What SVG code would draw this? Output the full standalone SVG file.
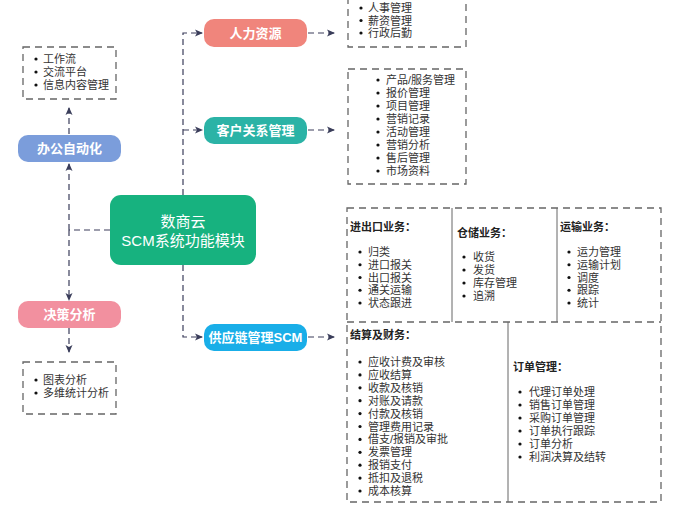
<svg xmlns="http://www.w3.org/2000/svg" width="681" height="527" viewBox="0 0 681 527">
<defs>
<marker id="ah" markerWidth="8" markerHeight="8" refX="7" refY="4" orient="auto" markerUnits="userSpaceOnUse">
<path d="M0,0.5 L8,4 L0,7.5 L2,4 Z" fill="#3a3d5a"/>
</marker>
</defs>
<style>
.conn{fill:none;stroke:#3a3d5a;stroke-width:1.2;stroke-dasharray:6,4}
.box{fill:#fff;stroke:#666;stroke-width:1.3;stroke-dasharray:7,5}
.div{stroke:#666;stroke-width:1}
.nt{font-family:"Liberation Sans","Noto Sans CJK SC",sans-serif;font-size:13px;font-weight:bold;fill:#fff;text-anchor:middle}
.it{font-family:"Liberation Sans","Noto Sans CJK SC",sans-serif;font-size:11px;fill:#333}
.hd{font-family:"Liberation Sans","Noto Sans CJK SC",sans-serif;font-size:11px;font-weight:bold;fill:#222}
.bl{fill:#111}
</style>
<rect width="681" height="527" fill="#fff"/>
<g id="connectors">
<path class="conn" d="M183,195 V33 H202" marker-end="url(#ah)"/>
<path class="conn" d="M183,130 H202" marker-end="url(#ah)"/>
<path class="conn" d="M183,265 V337 H202" marker-end="url(#ah)"/>
<path class="conn" d="M308,33 H334" marker-end="url(#ah)"/>
<path class="conn" d="M308,130 H334" marker-end="url(#ah)"/>
<path class="conn" d="M308,337 H334" marker-end="url(#ah)"/>
<path class="conn" d="M110,230 H69"/>
<path class="conn" d="M69,230 V164" marker-end="url(#ah)"/>
<path class="conn" d="M69,230 V300" marker-end="url(#ah)"/>
<path class="conn" d="M69,134 V108" marker-end="url(#ah)"/>
<path class="conn" d="M69,328 V352" marker-end="url(#ah)"/>
</g>
<g id="main">
<rect x="110" y="195" width="146" height="70" rx="11" fill="#17b27f"/>
<text class="nt" x="183" y="227" style="font-size:15px;font-weight:normal"><tspan x="183">数商云</tspan><tspan x="183" dy="19">SCM系统功能模块</tspan></text>
</g>
<g id="hr">
<rect x="204" y="19" width="103" height="28" rx="10" fill="#f0857c"/>
<text class="nt" x="255.500" y="38">人力资源</text>
</g>
<g id="crm">
<rect x="204" y="117" width="103" height="27" rx="10" fill="#2bb3a6"/>
<text class="nt" x="255.500" y="135">客户关系管理</text>
</g>
<g id="scm">
<rect x="204" y="324" width="103" height="27" rx="10" fill="#19aee8"/>
<text class="nt" x="255.500" y="342">供应链管理SCM</text>
</g>
<g id="oa">
<rect x="18" y="135" width="103" height="27" rx="10" fill="#7b9ddb"/>
<text class="nt" x="69.500" y="153">办公自动化</text>
</g>
<g id="da">
<rect x="18" y="301" width="103" height="27" rx="10" fill="#f2909f"/>
<text class="nt" x="69.500" y="319">决策分析</text>
</g>
<g id="oa-list">
<rect class="box" x="23" y="47" width="93" height="52"/>
<circle class="bl" cx="36" cy="59" r="1.6"/><circle class="bl" cx="36" cy="72" r="1.6"/><circle class="bl" cx="36" cy="85" r="1.6"/>
<text class="it" y="63"><tspan x="43">工作流</tspan><tspan x="43" dy="13">交流平台</tspan><tspan x="43" dy="13">信息内容管理</tspan></text>
</g>
<g id="da-list">
<rect class="box" x="23" y="362" width="93" height="52"/>
<circle class="bl" cx="36" cy="380" r="1.6"/><circle class="bl" cx="36" cy="393" r="1.6"/>
<text class="it" y="384"><tspan x="43">图表分析</tspan><tspan x="43" dy="13">多维统计分析</tspan></text>
</g>
<g id="hr-list">
<rect class="box" x="348" y="-10" width="118" height="57"/>
<circle class="bl" cx="361" cy="8" r="1.6"/><circle class="bl" cx="361" cy="20.500" r="1.6"/><circle class="bl" cx="361" cy="33" r="1.6"/>
<text class="it" y="12"><tspan x="368">人事管理</tspan><tspan x="368" dy="12.500">薪资管理</tspan><tspan x="368" dy="12.500">行政后勤</tspan></text>
</g>
<g id="crm-list">
<rect class="box" x="348" y="69" width="118" height="115"/>
<circle class="bl" cx="378" cy="80" r="1.6"/><circle class="bl" cx="378" cy="93" r="1.6"/><circle class="bl" cx="378" cy="106" r="1.6"/><circle class="bl" cx="378" cy="119" r="1.6"/><circle class="bl" cx="378" cy="132" r="1.6"/><circle class="bl" cx="378" cy="145" r="1.6"/><circle class="bl" cx="378" cy="158" r="1.6"/><circle class="bl" cx="378" cy="171" r="1.6"/>
<text class="it" y="84"><tspan x="386">产品/服务管理</tspan><tspan x="386" dy="13">报价管理</tspan><tspan x="386" dy="13">项目管理</tspan><tspan x="386" dy="13">营销记录</tspan><tspan x="386" dy="13">活动管理</tspan><tspan x="386" dy="13">营销分析</tspan><tspan x="386" dy="13">售后管理</tspan><tspan x="386" dy="13">市场资料</tspan></text>
</g>
<g id="scm-list">
<rect class="box" x="347" y="208" width="314" height="294"/>
<line class="div" x1="452" y1="208" x2="452" y2="322"/>
<line class="div" x1="557" y1="208" x2="557" y2="322"/>
<line class="box" x1="347" y1="322" x2="661" y2="322"/>
<line class="div" x1="508" y1="322" x2="508" y2="502"/>
<text class="hd" x="350" y="231">进出口业务：</text>
<circle class="bl" cx="360" cy="252" r="1.6"/><circle class="bl" cx="360" cy="264.750" r="1.6"/><circle class="bl" cx="360" cy="277.500" r="1.6"/><circle class="bl" cx="360" cy="290.250" r="1.6"/><circle class="bl" cx="360" cy="303" r="1.6"/>
<text class="it" y="256"><tspan x="368">归类</tspan><tspan x="368" dy="12.750">进口报关</tspan><tspan x="368" dy="12.750">出口报关</tspan><tspan x="368" dy="12.750">通关运输</tspan><tspan x="368" dy="12.750">状态跟进</tspan></text>
<text class="hd" x="457" y="237">仓储业务：</text>
<circle class="bl" cx="464" cy="257" r="1.6"/><circle class="bl" cx="464" cy="270" r="1.6"/><circle class="bl" cx="464" cy="283" r="1.6"/><circle class="bl" cx="464" cy="296" r="1.6"/>
<text class="it" y="261"><tspan x="473">收货</tspan><tspan x="473" dy="13">发货</tspan><tspan x="473" dy="13">库存管理</tspan><tspan x="473" dy="13">追溯</tspan></text>
<text class="hd" x="560" y="231">运输业务：</text>
<circle class="bl" cx="569" cy="252" r="1.6"/><circle class="bl" cx="569" cy="264.750" r="1.6"/><circle class="bl" cx="569" cy="277.500" r="1.6"/><circle class="bl" cx="569" cy="290.250" r="1.6"/><circle class="bl" cx="569" cy="303" r="1.6"/>
<text class="it" y="256"><tspan x="577">运力管理</tspan><tspan x="577" dy="12.750">运输计划</tspan><tspan x="577" dy="12.750">调度</tspan><tspan x="577" dy="12.750">跟踪</tspan><tspan x="577" dy="12.750">统计</tspan></text>
<text class="hd" x="350" y="339">结算及财务：</text>
<circle class="bl" cx="360" cy="362" r="1.6"/><circle class="bl" cx="360" cy="374.900" r="1.6"/><circle class="bl" cx="360" cy="387.800" r="1.6"/><circle class="bl" cx="360" cy="400.700" r="1.6"/><circle class="bl" cx="360" cy="413.600" r="1.6"/><circle class="bl" cx="360" cy="426.500" r="1.6"/><circle class="bl" cx="360" cy="439.400" r="1.6"/><circle class="bl" cx="360" cy="452.300" r="1.6"/><circle class="bl" cx="360" cy="465.200" r="1.6"/><circle class="bl" cx="360" cy="478.100" r="1.6"/><circle class="bl" cx="360" cy="491" r="1.6"/>
<text class="it" y="366"><tspan x="368">应收计费及审核</tspan><tspan x="368" dy="12.900">应收结算</tspan><tspan x="368" dy="12.900">收款及核销</tspan><tspan x="368" dy="12.900">对账及请款</tspan><tspan x="368" dy="12.900">付款及核销</tspan><tspan x="368" dy="12.900">管理费用记录</tspan><tspan x="368" dy="12.900">借支/报销及审批</tspan><tspan x="368" dy="12.900">发票管理</tspan><tspan x="368" dy="12.900">报销支付</tspan><tspan x="368" dy="12.900">抵扣及退税</tspan><tspan x="368" dy="12.900">成本核算</tspan></text>
<text class="hd" x="513" y="371">订单管理：</text>
<circle class="bl" cx="520" cy="392" r="1.6"/><circle class="bl" cx="520" cy="405" r="1.6"/><circle class="bl" cx="520" cy="418" r="1.6"/><circle class="bl" cx="520" cy="431" r="1.6"/><circle class="bl" cx="520" cy="444" r="1.6"/><circle class="bl" cx="520" cy="457" r="1.6"/>
<text class="it" y="396"><tspan x="529">代理订单处理</tspan><tspan x="529" dy="13">销售订单管理</tspan><tspan x="529" dy="13">采购订单管理</tspan><tspan x="529" dy="13">订单执行跟踪</tspan><tspan x="529" dy="13">订单分析</tspan><tspan x="529" dy="13">利润决算及结转</tspan></text>
</g>
</svg>
